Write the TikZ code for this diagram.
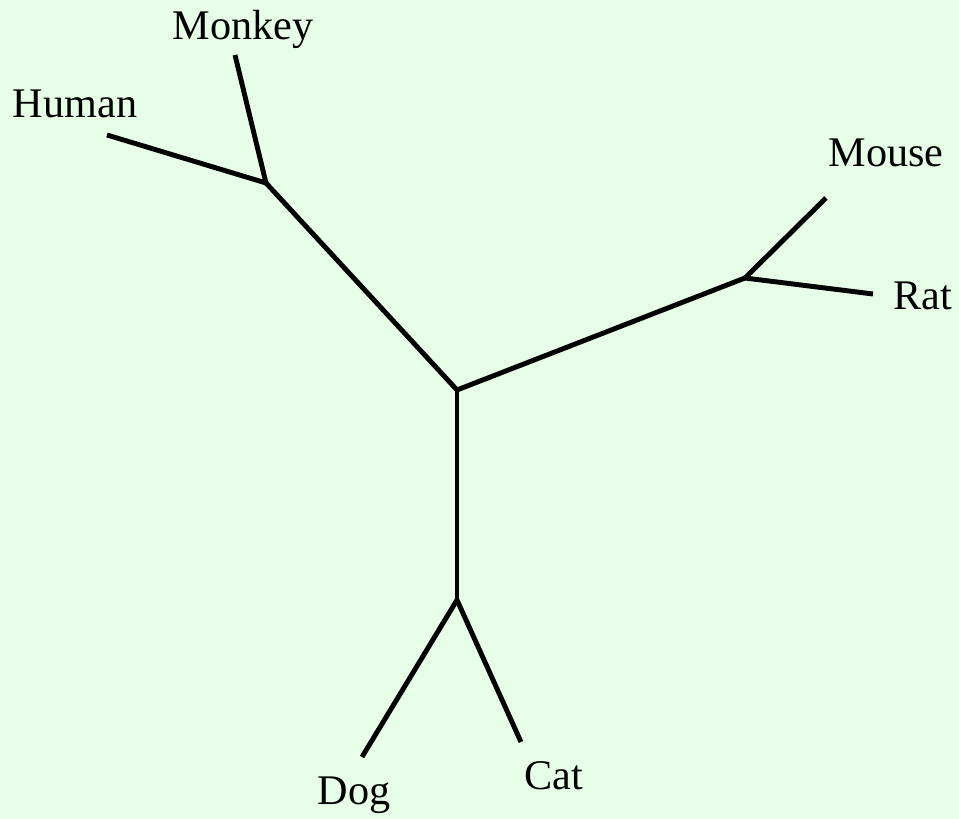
\documentclass[tikz,border=0pt]{standalone}
\usepackage{fontspec}
\setmainfont{Liberation Serif}
\usetikzlibrary{calc}
\definecolor{bggreen}{HTML}{E6FFE6}

\begin{document}
\begin{tikzpicture}[x=0.01cm,y=-0.01cm,
    branch/.style={line width=1.4pt},
    leaf/.style={anchor=base,inner sep=0pt,font=\fontsize{12}{14}\selectfont}]
  \fill[bggreen] (0,0) rectangle (959,819);
  \useasboundingbox (0,0) rectangle (959,819);

  \coordinate (root) at (457,390);
  \coordinate (primates) at (266,183);
  \coordinate (rodents) at (745,278);
  \coordinate (carnivores) at (457,600);
  \coordinate (human) at (107,135);
  \coordinate (monkey) at (235,55);
  \coordinate (mouse) at (826,198);
  \coordinate (rat) at (873,294);
  \coordinate (dog) at (362,757);
  \coordinate (cat) at (521,742);

  \draw[branch] (root) -- (primates);
  \draw[branch] (root) -- (rodents);
  \draw[branch] (root) -- (carnivores);
  \draw[branch] (primates) -- (human);
  \draw[branch] (primates) -- (monkey);
  \draw[branch] (rodents) -- (mouse);
  \draw[branch] (rodents) -- (rat);
  \draw[branch] (carnivores) -- (dog);
  \draw[branch] (carnivores) -- (cat);

  \node[leaf] (humanlabel) at (75,118) {Human};
  \node[leaf] (monkeylabel) at (243,40) {Monkey};
  \node[leaf] (mouselabel) at (886,167) {Mouse};
  \node[leaf] (ratlabel) at (923,310) {Rat};
  \node[leaf] (doglabel) at (354,805) {Dog};
  \node[leaf] (catlabel) at (554,790) {Cat};
\end{tikzpicture}
\end{document}
